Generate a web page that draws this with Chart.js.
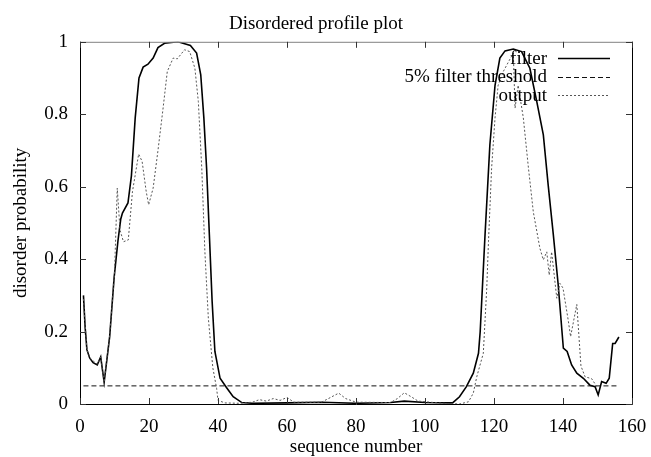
<!DOCTYPE html>
<html>
<head>
<meta charset="utf-8">
<script src="https://cdn.jsdelivr.net/npm/chart.js@4/dist/chart.umd.min.js"></script>
<style>
  html, body { margin: 0; padding: 0; background: #fff; }
  #wrap { width: 651px; height: 457px; }
</style>
</head>
<body>
<div id="wrap"><canvas id="chart"></canvas></div>
<script>
// disorder profile
const filterX = [1, 1.5, 2, 2.8, 3.8, 5, 6, 7, 8.6, 9.9, 11, 11.8, 12.3, 13.9, 14.9, 16, 17.1, 18.3, 19.7, 21.2,
  22.6, 24.5, 28.4, 32, 33.8, 35, 35.9, 36.7, 37.5, 38.3, 39.1, 40.6, 42.5, 44.4, 46.9, 50, 60, 70, 80, 90,
  94, 100, 108, 110, 112, 114, 115.5, 116, 117.4, 118.8, 120.3, 121.7, 123.2, 125.6, 128, 130.4, 132.4, 134.3, 135.7, 137.2,
  138.6, 140.1, 141.2, 142.5, 144, 145.9, 147.8, 149.3, 150.2, 151.2, 152.5, 153.4, 154.4, 155.1, 156.2];
const filterY = [0.30, 0.21, 0.15, 0.127, 0.114, 0.108, 0.13, 0.06, 0.186, 0.35, 0.45, 0.51, 0.527, 0.555, 0.63, 0.79, 0.90, 0.93, 0.938, 0.955,
  0.984, 0.996, 1.0, 0.99, 0.969, 0.909, 0.79, 0.65, 0.467, 0.283, 0.145, 0.071, 0.045, 0.02, 0.004, 0.002, 0.003, 0.005, 0.002, 0.004,
  0.008, 0.004, 0.003, 0.02, 0.048, 0.085, 0.14, 0.2, 0.467, 0.715, 0.88, 0.955, 0.975, 0.98, 0.973, 0.927, 0.835, 0.743, 0.605, 0.467,
  0.33, 0.154, 0.145, 0.108, 0.085, 0.071, 0.052, 0.048, 0.025, 0.062, 0.057, 0.071, 0.167, 0.167, 0.185];

const outputX = [1, 2, 3, 5, 6, 7, 8.6, 10, 10.8, 11.6, 12.6, 14, 15.2, 17, 18, 19.2, 19.9, 21.2, 22.6, 24,
  25.3, 27, 28.2, 30.3, 31.8, 33.3, 34.3, 35.3, 36.2, 37.2, 38.5, 39.6, 40, 42, 46, 50, 52, 54, 56, 58,
  60, 62, 70, 73, 75, 77, 80, 90, 92, 94, 96, 98, 105, 110, 112.6, 114, 115, 116.9, 117.9, 118.4,
  119.3, 120.3, 121.2, 122.7, 124.5, 125.6, 126.1, 127, 128.5, 130, 131.4, 133.3, 134.3, 135.3, 136, 136.7, 138.2, 139.1, 140, 141.5,
  142.2, 144, 145.2, 146.4, 148.3, 149.8];
const outputY = [0.29, 0.15, 0.125, 0.11, 0.13, 0.06, 0.19, 0.36, 0.596, 0.48, 0.448, 0.453, 0.586, 0.69, 0.67, 0.586, 0.55, 0.596, 0.70, 0.81,
  0.918, 0.955, 0.953, 0.978, 0.973, 0.927, 0.835, 0.65, 0.42, 0.237, 0.10, 0.043, 0.01, 0.003, 0.002, 0.005, 0.012, 0.008, 0.015, 0.01,
  0.018, 0.005, 0.005, 0.02, 0.03, 0.015, 0.005, 0.004, 0.015, 0.031, 0.02, 0.008, 0.002, 0.0, 0.006, 0.03, 0.075, 0.14, 0.32, 0.448,
  0.65, 0.79, 0.88, 0.918, 0.95, 0.969, 0.817, 0.88, 0.79, 0.65, 0.53, 0.43, 0.398, 0.42, 0.356, 0.42, 0.292, 0.333, 0.32, 0.232,
  0.186, 0.275, 0.105, 0.075, 0.07, 0.048];

const thresholdX = [1, 156];
const thresholdY = [0.05, 0.05];

const xTicks = [0, 20, 40, 60, 80, 100, 120, 140, 160];
const yTicks = [0, 0.2, 0.4, 0.6, 0.8, 1];

const FONT = 'Liberation Serif';

function points(xs, ys) {
  return xs.map((x, i) => ({x: x, y: ys[i]}));
}

// gnuplot style frame + inward ticks
const framePlugin = {
  id: 'frame',
  afterDraw(chart) {
    const {ctx, chartArea: a, scales: {x, y}} = chart;
    ctx.save();
    ctx.lineWidth = 1;
    ctx.strokeStyle = '#000';
    ctx.beginPath();
    ctx.moveTo(a.left + 0.5, a.top);
    ctx.lineTo(a.left + 0.5, a.bottom + 0.5);
    ctx.lineTo(a.right + 0.5, a.bottom + 0.5);
    ctx.lineTo(a.right + 0.5, a.top);
    ctx.stroke();
    ctx.strokeStyle = '#808080';
    ctx.beginPath();
    ctx.moveTo(a.left, a.top + 0.5);
    ctx.lineTo(a.right + 1, a.top + 0.5);
    ctx.stroke();
    ctx.strokeStyle = '#333';
    ctx.beginPath();
    for (const v of xTicks) {
      const px = Math.round(x.getPixelForValue(v)) + 0.5;
      ctx.moveTo(px, a.bottom);
      ctx.lineTo(px, a.bottom - 6);
      ctx.moveTo(px, a.top);
      ctx.lineTo(px, a.top + 6);
    }
    for (const v of yTicks) {
      const py = Math.round(y.getPixelForValue(v)) + 0.5;
      ctx.moveTo(a.left, py);
      ctx.lineTo(a.left + 6, py);
      ctx.moveTo(a.right, py);
      ctx.lineTo(a.right - 6, py);
    }
    ctx.stroke();

    // key, text right aligned with the sample on its right
    ctx.font = '19px "' + FONT + '"';
    ctx.textAlign = 'right';
    ctx.textBaseline = 'middle';
    ctx.fillStyle = '#000';
    const rows = [58, 76.5, 95];
    chart.data.datasets.forEach((ds, i) => {
      const ry = rows[i];
      ctx.fillText(ds.label, 547, ry + 1);
      ctx.strokeStyle = ds.borderColor;
      ctx.lineWidth = ds.borderWidth;
      ctx.setLineDash(ds.borderDash || []);
      ctx.beginPath();
      ctx.moveTo(558, Math.round(ry) + 0.5);
      ctx.lineTo(610, Math.round(ry) + 0.5);
      ctx.stroke();
      ctx.setLineDash([]);
    });
    ctx.restore();
  }
};

new Chart(document.getElementById('chart'), {
  type: 'scatter',
  data: {
    datasets: [
      {
        label: 'filter',
        data: points(filterX, filterY),
        borderColor: '#000',
        borderWidth: 1.6,
        showLine: true,
        pointRadius: 0,
        order: 2,
      },
      {
        label: '5% filter threshold',
        data: points(thresholdX, thresholdY),
        borderColor: '#111',
        borderWidth: 1,
        borderDash: [5, 3],
        showLine: true,
        pointRadius: 0,
        order: 1,
      },
      {
        label: 'output',
        data: points(outputX, outputY),
        borderColor: '#555',
        borderWidth: 1,
        borderDash: [2, 2],
        showLine: true,
        pointRadius: 0,
        order: 0,
      },
    ],
  },
  options: {
    responsive: true,
    maintainAspectRatio: false,
    animation: false,
    layout: {padding: {left: 0, right: 19, top: 0, bottom: 0}},
    plugins: {
      legend: {display: false},
      tooltip: {enabled: false},
      title: {
        display: true,
        text: 'Disordered profile plot',
        color: '#000',
        font: {family: FONT, size: 19, weight: 'normal'},
        padding: {top: 13, bottom: 6},
      },
    },
    scales: {
      x: {
        type: 'linear',
        min: 0,
        max: 160,
        afterFit: (s) => { s.height = 53; s.paddingLeft = 0; s.paddingRight = 0; },
        afterBuildTicks: (s) => { s.ticks = xTicks.map(v => ({value: v})); },
        grid: {display: false, drawTicks: false},
        border: {display: false},
        ticks: {color: '#000', padding: 12, maxRotation: 0, font: {family: FONT, size: 19}},
        title: {
          display: true,
          text: 'sequence number',
          color: '#000',
          font: {family: FONT, size: 19},
          padding: {top: 0, bottom: -1},
        },
      },
      y: {
        type: 'linear',
        min: 0,
        max: 1,
        afterFit: (s) => { s.width = 80; s.paddingTop = 0; s.paddingBottom = 0; },
        afterBuildTicks: (s) => { s.ticks = yTicks.map(v => ({value: v})); },
        grid: {display: false, drawTicks: false},
        border: {display: false},
        ticks: {color: '#000', padding: 12, font: {family: FONT, size: 19}, callback: (v) => String(v)},
        title: {
          display: true,
          text: 'disorder probability',
          color: '#000',
          font: {family: FONT, size: 19},
          padding: {top: 10, bottom: 0},
        },
      },
    },
  },
  plugins: [framePlugin],
});
</script>
</body>
</html>
